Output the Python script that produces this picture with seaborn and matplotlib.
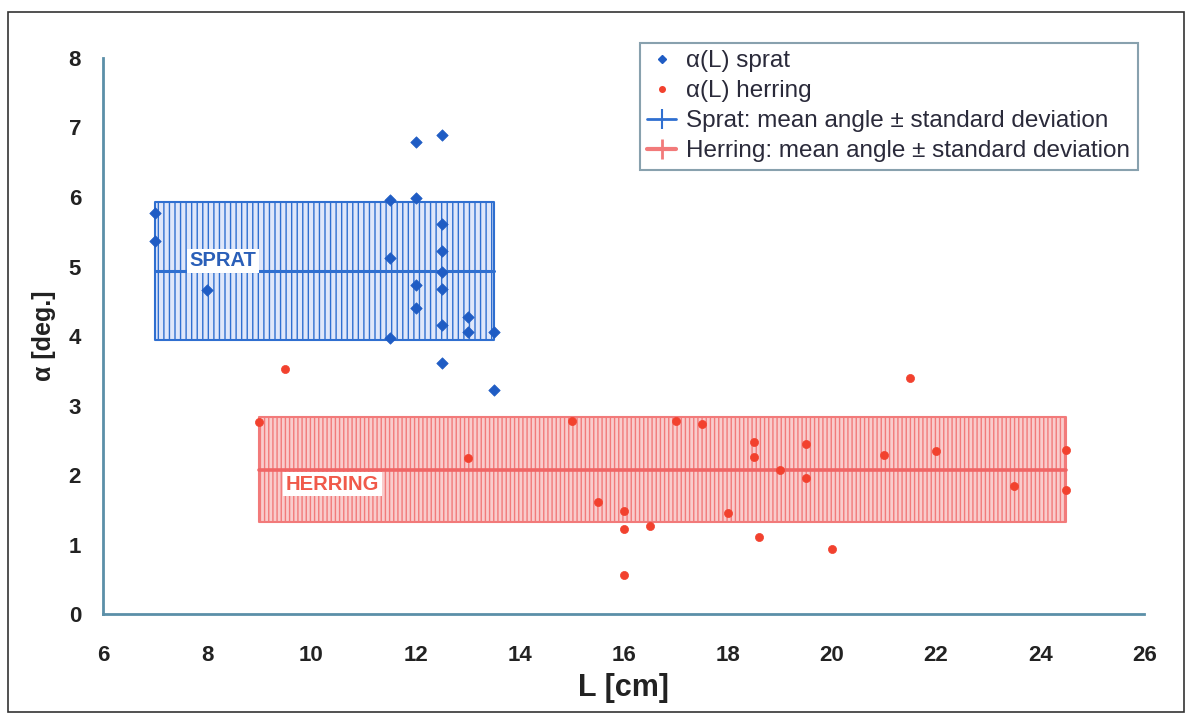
import numpy as np
import pandas as pd
import matplotlib
matplotlib.use('Agg')
import matplotlib.pyplot as plt
import seaborn as sns
from matplotlib.lines import Line2D
from matplotlib.patches import Rectangle

# ── DATA ──────────────────────────────────────────────────────────────────────
sprat_L = [7, 7, 8, 11.5, 11.5, 11.5, 12, 12, 12, 12,
           12.5, 12.5, 12.5, 12.5, 12.5, 12.5, 12.5, 13, 13, 13.5, 13.5]
sprat_a = [5.77, 5.37, 4.66, 5.96, 5.12, 3.97, 6.79, 5.99, 4.73, 4.40,
           6.89, 5.61, 5.22, 4.92, 4.68, 4.16, 3.61, 4.27, 4.06, 4.06, 3.22]

herring_L = [9, 9.5, 13, 15, 15.5, 16, 16, 16, 16.5, 17, 17.5, 18,
             18.5, 18.5, 18.6, 19, 19.5, 19.5, 20, 21, 21.5, 22, 23.5, 24.5, 24.5]
herring_a = [2.76, 3.53, 2.24, 2.78, 1.61, 1.48, 1.22, 0.56, 1.27, 2.78, 2.73, 1.45,
             2.47, 2.26, 1.11, 2.07, 2.45, 1.96, 0.94, 2.29, 3.40, 2.35, 1.84, 2.36, 1.78]

sprat_range = [7, 13.5]
sprat_mean, sprat_sd = 4.94, 0.99
herring_range = [9, 24.5]
herring_mean, herring_sd = 2.08, 0.76

BLUE = '#1f5cc4'
RED = '#f2412e'
SPINE = '#5b8fa8'

sprat = pd.DataFrame({'L': sprat_L, 'a': sprat_a})
herring = pd.DataFrame({'L': herring_L, 'a': herring_a})

# ── PLOT ──────────────────────────────────────────────────────────────────────
sns.set_style('white')
plt.rcParams['font.family'] = ['Liberation Sans', 'DejaVu Sans']
plt.rcParams['hatch.linewidth'] = 1.0

fig = plt.figure(figsize=(11.87, 7.15), dpi=100)
ax = fig.add_axes([0.087, 0.141, 0.877, 0.778])

# bands (mean ± sd) as vertical hatching
ax.fill_between(sprat_range, sprat_mean - sprat_sd, sprat_mean + sprat_sd,
                facecolor='#dfe7fa', edgecolor='#2f6fd0', hatch='|||', lw=1.5, zorder=1)
ax.fill_between(herring_range, herring_mean - herring_sd, herring_mean + herring_sd,
                facecolor='#f9cccc', edgecolor='#f27a7a', hatch='||||', lw=1.5, zorder=1)

sns.lineplot(x=sprat_range, y=[sprat_mean] * 2, color='#2f6fd0', lw=2.2, ax=ax, zorder=2)
sns.lineplot(x=herring_range, y=[herring_mean] * 2, color='#f06565', lw=2.6, ax=ax, zorder=2)

sns.scatterplot(data=sprat, x='L', y='a', marker='D', s=34, color=BLUE,
                edgecolor=BLUE, linewidth=0.5, ax=ax, zorder=4)
sns.scatterplot(data=herring, x='L', y='a', marker='o', s=34, color=RED,
                edgecolor=RED, linewidth=0.5, ax=ax, zorder=4)

ax.text(8.3, 5.08, 'SPRAT', color='#2a5fb8', fontsize=14.5, fontweight='bold',
        ha='center', va='center', zorder=5,
        bbox=dict(facecolor='white', edgecolor='none', pad=2))
ax.text(10.4, 1.87, 'HERRING', color='#f05a4a', fontsize=14.5, fontweight='bold',
        ha='center', va='center', zorder=5,
        bbox=dict(facecolor='white', edgecolor='none', pad=2))

ax.set_xlim(6, 26)
ax.set_ylim(0, 8)
ax.set_xticks(range(6, 27, 2))
ax.set_yticks(range(0, 9))
ax.set_xlabel('L [cm]', fontsize=22, fontweight='bold', color='#222222', labelpad=5)
ax.set_ylabel('α [deg.]', fontsize=18, fontweight='bold', color='#222222', labelpad=9)

for side in ['top', 'right']:
    ax.spines[side].set_visible(False)
for side in ['left', 'bottom']:
    ax.spines[side].set_color(SPINE)
    ax.spines[side].set_linewidth(2)
ax.tick_params(axis='both', direction='out', length=6, width=1.5, color=SPINE,
               labelsize=16, labelcolor='#222222')
ax.tick_params(axis='x', pad=16)
ax.tick_params(axis='y', pad=10)
for lab in ax.get_xticklabels() + ax.get_yticklabels():
    lab.set_fontweight('bold')

# legend
handles = [
    Line2D([], [], ls='none', marker='D', markersize=4, color=BLUE),
    Line2D([], [], ls='none', marker='o', markersize=4, color=RED),
    Line2D([], [], color='#2f6fd0', lw=2, marker='|', markersize=15, markeredgewidth=1.5),
    Line2D([], [], color='#f27a7a', lw=3, marker='|', markersize=15, markeredgewidth=2),
]
labels = ['α(L) sprat', 'α(L) herring',
          'Sprat: mean angle ± standard deviation',
          'Herring: mean angle ± standard deviation']
leg = ax.legend(handles, labels, loc='upper right', bbox_to_anchor=(0.9935, 1.027),
                fontsize=17.5, frameon=True, fancybox=False, handlelength=1.2,
                handletextpad=0.4, borderpad=0.3, labelspacing=0.33,
                labelcolor='#2a2a3a', borderaxespad=0)
leg.get_frame().set_edgecolor('#6a8a9a')
leg.get_frame().set_linewidth(1.5)

# outer frame
fig.patches.append(Rectangle((8 / 1187, 1 - 712 / 715), (1184 - 8) / 1187, (712 - 12) / 715,
                             transform=fig.transFigure, fill=False,
                             edgecolor='#333333', lw=1.2, zorder=0))

fig.savefig('out.png', dpi=100)
